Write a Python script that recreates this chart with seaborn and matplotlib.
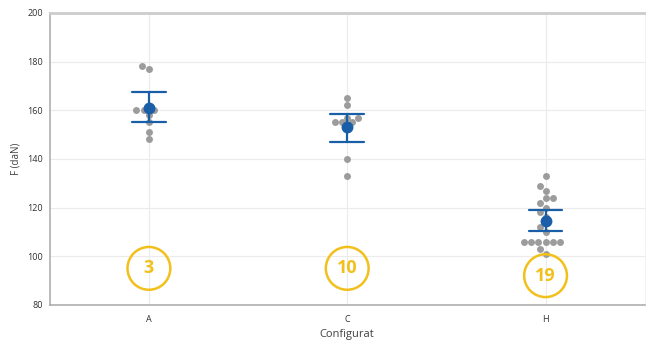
import numpy as np
import pandas as pd
import seaborn as sns
import matplotlib.pyplot as plt

a_vals = [178, 177, 160, 160, 160, 158, 155, 151, 148]
c_vals = [165, 162, 157, 157, 155, 155, 155, 153, 140, 133]
h_vals = [133, 129, 127, 124, 124, 122, 120, 118, 116, 112,
          110, 106, 106, 106, 106, 106, 106, 103, 101]
categories = ['A', 'C', 'H']

# yellow circled labels
circle_labels = ['3', '10', '19']
circle_y = [95, 95, 92]

data = pd.DataFrame({
    'Configurat': ['A'] * len(a_vals) + ['C'] * len(c_vals) + ['H'] * len(h_vals),
    'F': a_vals + c_vals + h_vals,
})

sns.set_style('whitegrid')
plt.rcParams['font.family'] = ['Open Sans', 'DejaVu Sans']

fig, ax = plt.subplots(figsize=(6.46, 3.41), dpi=100)
fig.subplots_adjust(left=0.077, right=0.998, top=0.962, bottom=0.106)

sns.swarmplot(data=data, x='Configurat', y='F', order=categories,
              color='#9c9c9c', size=5, ax=ax, zorder=2)
sns.pointplot(data=data, x='Configurat', y='F', order=categories,
              color='#1b5ea8', errorbar=('ci', 95), seed=1, capsize=0.17,
              linestyle='none', markersize=6.5, err_kws={'linewidth': 1.6},
              ax=ax, zorder=3)

# circled numbers
gold = '#f2c01c'
ax.scatter(categories, circle_y, s=950, facecolors='none', edgecolors=gold,
           linewidths=1.8, zorder=4)
for cat, lab, yy in zip(categories, circle_labels, circle_y):
    ax.text(cat, yy, lab, color=gold, fontsize=13, fontweight='bold',
            ha='center', va='center', zorder=5)

ax.set_ylim(80, 200)
ax.set_yticks(range(80, 201, 20))
ax.set_xlim(-0.5, 2.5)
ax.set_ylabel('F (daN)', fontsize=7, color='#404040')
ax.set_xlabel('Configurat', fontsize=8, color='#404040')
ax.tick_params(axis='both', labelsize=6.5, labelcolor='#303030', length=3,
               color='#a0a0a0', width=0.8, pad=2)
ax.tick_params(axis='x', pad=4)
ax.grid(True, color='#ebebeb', linewidth=0.8)

for side in ['left', 'bottom']:
    ax.spines[side].set_color('#a8a8a8')
    ax.spines[side].set_linewidth(1.1)
ax.spines['top'].set_color('#cccccc')
ax.spines['top'].set_linewidth(2)
ax.spines['right'].set_color('#f2f2f2')
ax.spines['right'].set_linewidth(0.8)

fig.savefig('out.png', dpi=100)
